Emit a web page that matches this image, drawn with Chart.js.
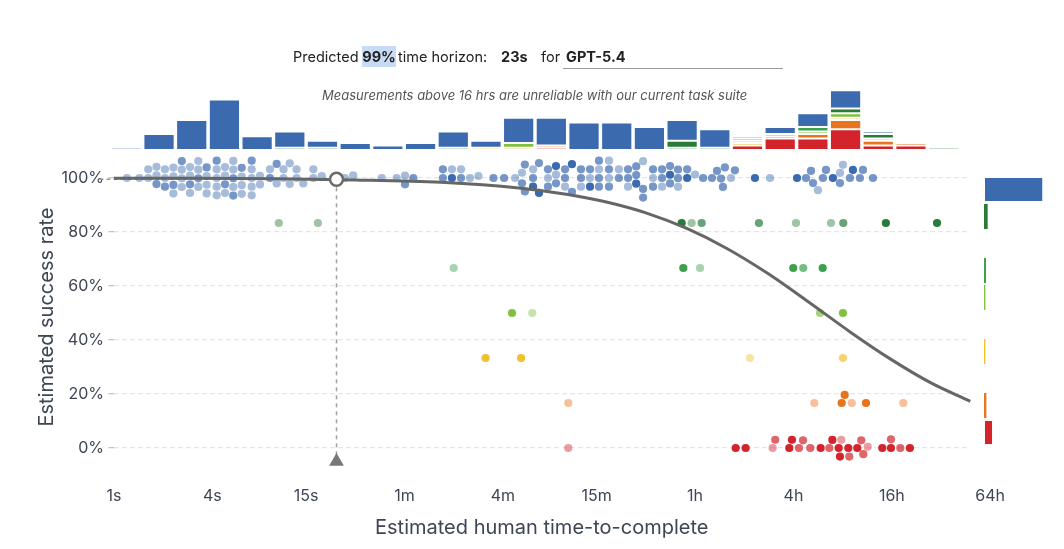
<!DOCTYPE html>
<html><head><meta charset="utf-8">
<script src="https://cdn.jsdelivr.net/npm/chart.js@4.4.1/dist/chart.umd.min.js"></script>
<style>
html,body{margin:0;padding:0;background:#fff;}
#wrap{position:relative;width:1064px;height:549px;overflow:hidden;font-family:Inter,"Noto Sans",sans-serif;}
canvas{position:absolute;}
.t{position:absolute;white-space:nowrap;font-size:14.5px;line-height:21px;color:#222;top:46px;}
.b{font-weight:700;}
</style></head><body>
<div id="wrap">
<canvas id="main" width="1064" height="549" style="left:0;top:0"></canvas>
<canvas id="hist" width="850" height="65" style="left:110px;top:85px"></canvas>
<canvas id="side" width="79" height="270" style="left:984px;top:176px"></canvas>
<div class="t" style="left:293px">Predicted</div>
<div class="t b" style="left:362px;width:34px;height:21px;background:#c8dbf5;text-align:center;">99%</div>
<div class="t" style="left:398px">time horizon:</div>
<div class="t b" style="left:501px">23s</div>
<div class="t" style="left:541px">for</div>
<div class="t b" style="left:566px">GPT-5.4</div>
<div style="position:absolute;left:563px;top:68px;width:220px;height:1px;background:#9a9a9a"></div>
<div class="t" style="left:322px;top:85px;font-size:13px;font-style:italic;color:#555;">Measurements above 16 hrs are unreliable with our current task suite</div>
</div>
<script>
// ---------------- DATA ----------------
const L = 0.45, M = 0.7, D = 1;   // task weights (shown as opacity)
// [estimated human seconds, weight]
const tasks100 = [
 [1.2,L],[1.43,L],[1.62,L],[1.62,L],
 [1.82,L],[1.82,M],[1.82,L],
 [2.05,L],[2.05,L],[2.05,M],
 [2.31,L],[2.31,M],[2.31,L],[2.31,L],
 [2.6,L],[2.6,L],[2.6,L],[2.6,M],
 [2.92,L],[2.92,M],[2.92,L],[2.92,L],
 [3.28,M],[3.28,L],[3.28,L],[3.28,L],
 [3.69,L],[3.69,L],[3.69,M],[3.69,L],[3.69,L],
 [4.25,L],[4.25,L],[4.25,L],[4.25,M],[4.25,L],
 [4.78,L],[4.78,M],[4.78,L],[4.78,L],[4.78,L],
 [5.37,M],[5.37,L],[5.37,L],[5.37,L],[5.37,M],
 [6.05,L],[6.05,L],[6.05,M],[6.05,L],[6.05,L],
 [6.96,L],[6.96,L],[6.96,L],[6.96,M],[6.96,L],
 [7.83,L],[7.83,L],[9.0,M],[9.0,L],[9.9,L],[9.9,M],
 [10.9,L],[10.9,L],[11.9,L],[11.9,L],[13.1,L],[13.1,L],
 [14.4,L],[16.6,L],[16.6,L],[18.7,L],[25.9,L],[29.1,L],
 [43.5,L],[53.7,L],[60.4,L],[60.4,M],[67.9,M],
 [103,M],[103,M],[117,D],[117,L],[133,M],[133,L],[151,L],[170,L],
 [210,M],[244,M],[285,L],[314,L],[314,M],[327,M],[327,M],
 [367,M],[367,L],[367,D],[399,M],[399,D],[399,L],
 [453,L],[453,M],[453,M],[507,L],[507,M],[507,D],
 [576,M],[576,M],[576,L],[635,D],[635,M],
 [721,M],[721,M],[721,L],[819,L],[819,M],[819,D],
 [929,M],[929,L],[929,M],[929,M],[1070,L],[1070,M],[1070,M],[1070,L],
 [1230,M],[1230,L],[1400,M],[1400,M],[1400,L],
 [1570,M],[1570,D],[1570,M],[1730,M],[1730,L],[1730,M],
 [1990,L],[1990,M],[1990,M],[2260,M],[2260,M],[2260,L],
 [2530,D],[2530,M],[2530,M],[2830,M],[2830,M],[2830,L],
 [3220,D],[3220,M],[3600,L],[4030,M],[4570,M],[4900,M],
 [5190,M],[5330,M],[5480,M],[5970,L],[6310,M],
 [8370,D],[10350,L],
 [15140,D],[17180,M],[18440,M],[18970,M],[20330,L],[21810,M],[22760,M],
 [25120,D],[27730,L],[27730,M],[28920,L],[31920,M],[33290,D],
 [36730,M],[38360,M],[44160,M]
];
const tasks83 = [[10.2,L],[17.7,L],[2980,D],[3430,L],[3950,M],[8850,M],[14920,L],[24430,L],[29060,M],[52970,D],[108900,D]];
const tasks67 = [[120,L],[3050,D],[3860,L],[14360,D],[16530,M],[21740,D]];
const tasks50 = [[273,D],[363,L],[20930,M],[28920,D]];
const tasks33 = [[188,D],[310,D],[7800,L],[28920,M]];
const tasks17 = [[603,L],[19320,L],[28400,D],[29640,D],[32730,L],[40010,D],[67690,L]];
const tasks0  = [[603,L],[6380,D],[7340,D],[10740,L],[11140,M],[13580,D],[14100,D],[15560,M],
 [16480,M],[18250,M],[21130,D],[23880,M],[24910,D],[27240,D],[27730,D],[28250,L],[31190,D],
 [31620,M],[35390,D],[37430,M],[38530,M],[41000,L],[50330,D],[56890,D],[56890,M],[64890,M],[74300,D]];

const successLevels = [100, 83.33, 66.67, 50, 33.33, 16.67, 0];
const levelTasks = [tasks100, tasks83, tasks67, tasks50, tasks33, tasks17, tasks0];
const levelRGB = [[59,106,175],[42,122,58],[60,160,76],[128,194,64],[241,192,48],[233,116,30],[211,36,44]];

// logistic fit curve: seconds -> success %
const curveSeconds = [1,3,10,30,100,300,600,1000,1800,3200,5600,10000,18000,32000,56000,100000,174000];
const curvePct     = [99.95,99.9,99.7,99.3,98.4,96.3,93.9,91.3,87.1,81.3,74.0,64.7,53.9,43.0,33.1,24.1,17.3];

const horizonSeconds = 23, horizonMarkPct = 99.5;

// histogram of task lengths (counts per bin, 26 bins of 0.2 decades)
const histBlue    = [1,7,13,22,6,7,3,3,2,3,7,3,11,12,12,12,10,9,8,1,3,6,8,1,0,0];
const histDkGreen = [0,0,0,0,0,1,1,0,0,0,0,0,0,0,0,0,0,3,0,1,1,0,2,2,0,1];
const histGreen   = [0,0,0,0,0,0,0,0,0,0,1,0,0,0,0,0,0,1,1,0,1,2,0,0,0,0];
const histLtGreen = [0,0,0,0,0,0,0,0,0,0,0,0,2,0,0,0,0,0,0,1,0,1,2,1,0,0];
const histYellow  = [0,0,0,0,0,0,0,0,0,0,0,1,1,0,0,0,0,0,0,1,0,0,1,0,0,0];
const histOrange  = [0,0,0,0,0,0,0,0,0,0,0,0,0,1,0,0,0,0,0,0,0,2,4,2,1,0];
const histRed     = [0,0,0,0,0,0,0,0,0,0,0,0,0,1,0,0,0,0,0,2,5,5,9,2,2,0];

const xTickSeconds = [1,4,15,60,240,900,3600,14400,57600,230400];
const xTickLabels  = ['1s','4s','15s','1m','4m','15m','1h','4h','16h','64h'];
const yTickValues  = [0,20,40,60,80,100];
const sideBuckets  = ['90–100','80–90','70–80','60–70','50–60','40–50','30–40','20–30','10–20','0–10'];

// ---------------- CHART ----------------
Chart.defaults.font.family = 'Inter, "Noto Sans", sans-serif';
const rgba = (c, a) => `rgba(${c[0]},${c[1]},${c[2]},${a})`;
const hex = c => rgba(c, 1);
const axisColor = '#3e4553';
const DOT_R = 4.1;

const dotDatasets = levelTasks.map((arr, li) => ({
  type: 'scatter', label: 'level' + li, order: 3,
  data: arr.map(t => ({x: t[0], y: successLevels[li]})),
  backgroundColor: arr.map(t => rgba(levelRGB[li], t[1])),
  borderWidth: 0, pointRadius: DOT_R, pointHoverRadius: DOT_R, clip: false
}));

const axisMarkSec = 0.815, bottomMarkPct = -5;

const mainChart = new Chart(document.getElementById('main'), {
  type: 'scatter',
  data: { datasets: [
    { type: 'scatter', order: 0, data: [{x: horizonSeconds, y: horizonMarkPct}],
      pointRadius: 6.5, backgroundColor: '#fff', borderColor: '#6a6a6a', borderWidth: 2.5, clip: false },
    { type: 'scatter', order: 1, data: [{x: axisMarkSec, y: horizonMarkPct}, {x: horizonSeconds, y: bottomMarkPct}],
      pointStyle: 'triangle', rotation: [90, 0], pointRadius: 8.5, backgroundColor: '#777', borderWidth: 0, clip: false },
    { type: 'line', order: 2, data: curveSeconds.map((s, i) => ({x: s, y: curvePct[i]})),
      showLine: true, borderColor: '#666', borderWidth: 3, pointRadius: 0, cubicInterpolationMode: 'monotone', fill: false, clip: false },
    ...dotDatasets,
    { type: 'line', order: 5, data: [{x: axisMarkSec, y: horizonMarkPct}, {x: horizonSeconds, y: horizonMarkPct}],
      showLine: true, borderColor: '#999', borderWidth: 1.5, borderDash: [4, 3], pointRadius: 0, clip: false },
    { type: 'line', order: 5, data: [{x: horizonSeconds, y: horizonMarkPct}, {x: horizonSeconds, y: bottomMarkPct}],
      showLine: true, borderColor: '#a0a0a0', borderWidth: 1.5, borderDash: [4, 4], pointRadius: 0, clip: false }
  ]},
  options: {
    responsive: false, animation: false, devicePixelRatio: 1, events: [],
    layout: { padding: { top: 164.5, right: 94, bottom: 0, left: 0 } },
    plugins: { legend: { display: false }, tooltip: { enabled: false } },
    scales: {
      x: {
        type: 'logarithmic', min: 0.993, max: 173300,
        afterBuildTicks: ax => { ax.ticks = xTickSeconds.map(v => ({value: v})); },
        afterFit: s => { s.height = 79.4; },
        grid: { display: false, drawTicks: false }, border: { display: false },
        ticks: { autoSkip: false, maxRotation: 0, padding: 16.8, color: axisColor,
                 font: { size: 16 }, callback: (v, i) => xTickLabels[i] },
        title: { display: true, text: 'Estimated human time-to-complete', color: axisColor,
                 font: { size: 20 }, padding: { top: 0, bottom: 9 } }
      },
      y: {
        type: 'linear', min: -8, max: 105,
        afterBuildTicks: ax => { ax.ticks = yTickValues.map(v => ({value: v})); },
        afterFit: s => { s.width = 113.5; },
        grid: { color: '#e6e6e6', lineWidth: 1.3, tickColor: '#c4c4c4', tickLength: 5, drawTicks: true },
        border: { display: false, dash: [5, 3] },
        ticks: { padding: 4.5, color: axisColor, font: { size: 16 }, callback: v => v + '%' },
        title: { display: true, text: 'Estimated success rate', color: axisColor,
                 font: { size: 20 }, padding: { top: 35, bottom: 0 } }
      }
    }
  }
});

// beeswarm layout (vertical displacement only), computed through the chart's scales
function beeswarm(px, dist) {
  const order = px.map((p, i) => i).sort((a, b) => px[a] - px[b]);
  const placed = [], dy = new Array(px.length).fill(0);
  for (const i of order) {
    const x = px[i], iv = [];
    for (const p of placed) {
      const dx = Math.abs(p.x - x);
      if (dx < dist) { const h = Math.sqrt(dist * dist - dx * dx); iv.push([p.y - h, p.y + h]); }
    }
    const cands = [0];
    iv.forEach(v => cands.push(v[0], v[1]));
    cands.sort((a, b) => (Math.abs(a) - Math.abs(b)) || (a - b));
    let best = 0;
    for (const c of cands) {
      if (iv.every(v => c <= v[0] + 1e-6 || c >= v[1] - 1e-6)) { best = c; break; }
    }
    dy[i] = best; placed.push({x, y: best});
  }
  return dy;
}
(function applySwarm() {
  const xs = mainChart.scales.x, ys = mainChart.scales.y;
  const pxPerPct = Math.abs(ys.getPixelForValue(0) - ys.getPixelForValue(1));
  dotDatasets.forEach((ds, li) => {
    const px = ds.data.map(p => xs.getPixelForValue(p.x));
    const dy = beeswarm(px, 2 * DOT_R + 0.45);
    ds.data.forEach((p, i) => { p.y = successLevels[li] - dy[i] / pxPerPct; });
  });
  mainChart.update('none');
})();

// top histogram
const histSeries = [
  [histRed, levelRGB[6]], [histOrange, levelRGB[5]], [histYellow, levelRGB[4]],
  [histLtGreen, levelRGB[3]], [histGreen, levelRGB[2]], [histDkGreen, levelRGB[1]], [histBlue, levelRGB[0]]
];
new Chart(document.getElementById('hist'), {
  type: 'bar',
  data: {
    labels: histBlue.map((_, i) => 'bin' + (i + 1)),
    datasets: histSeries.map(([arr, c]) => ({
      data: arr.map(v => v === 0 ? null : v), backgroundColor: hex(c),
      borderColor: 'rgba(255,255,255,0.6)', borderWidth: 1, borderSkipped: false,
      barPercentage: 0.955, categoryPercentage: 1
    }))
  },
  options: {
    responsive: false, animation: false, devicePixelRatio: 1, events: [],
    plugins: { legend: { display: false }, tooltip: { enabled: false } },
    scales: { x: { display: false, stacked: true }, y: { display: false, stacked: true, min: 0, max: 28.26 } }
  }
});

// right-hand distribution of success rates (counted from the tasks)
const sideCounts = sideBuckets.map(() => 0);
const sideColors = sideBuckets.map(() => '#ccc');
const sideBorder = sideBuckets.map(() => 0);
levelTasks.forEach((arr, li) => {
  const lv = successLevels[li];
  const b = lv >= 100 ? 0 : 9 - Math.floor(lv / 10);
  sideCounts[b] += arr.length;
  sideColors[b] = hex(levelRGB[li]);
});
const totalTasks = sideCounts.reduce((a, b) => a + b, 0);
sideCounts.forEach((c, i) => { sideBorder[i] = c > 15 ? 1 : 0; });
new Chart(document.getElementById('side'), {
  type: 'bar',
  data: { labels: sideBuckets, datasets: [{
    data: sideCounts, backgroundColor: sideColors, borderColor: 'rgba(255,255,255,0.5)',
    borderWidth: sideBorder, borderSkipped: false, barPercentage: 0.93, categoryPercentage: 1 }] },
  options: {
    indexAxis: 'y', responsive: false, animation: false, devicePixelRatio: 1, events: [],
    plugins: { legend: { display: false }, tooltip: { enabled: false } },
    scales: { x: { display: false, min: 0, max: totalTasks }, y: { display: false } }
  }
});
</script>
</body></html>
